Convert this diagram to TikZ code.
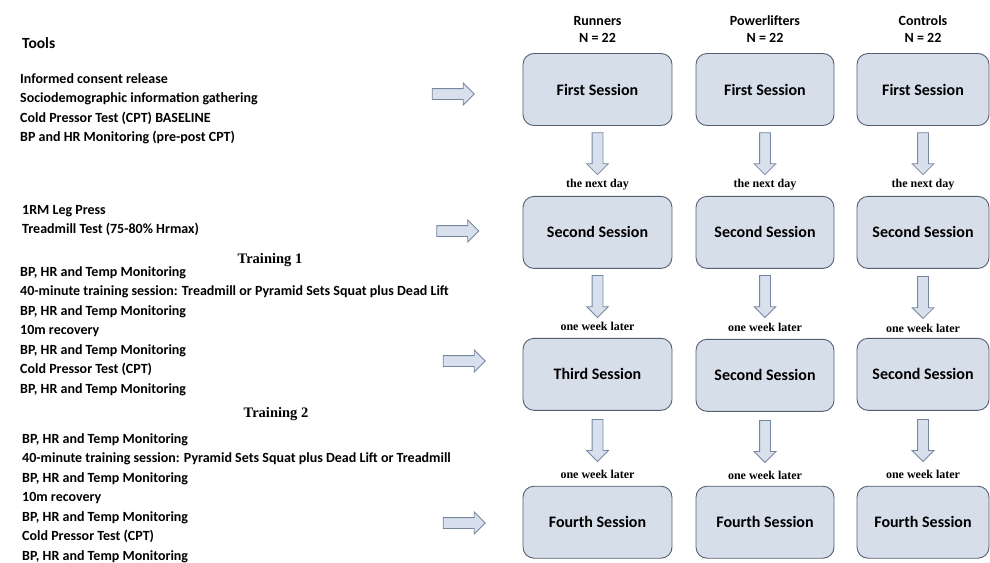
\documentclass[tikz,border=0pt]{standalone}
\usepackage{fontspec}
\setmainfont{Carlito}
\newfontfamily\labelserif{Liberation Serif}
\usepackage{tikz}
\usetikzlibrary{shapes.arrows, positioning, calc}
\definecolor{sessionfill}{RGB}{214,222,234}
\definecolor{sessiondraw}{RGB}{84,96,114}
\definecolor{arrowfill}{RGB}{216,224,238}
\definecolor{arrowdraw}{RGB}{118,134,158}
\tikzset{
    session/.style={
        rectangle,
        rounded corners=11pt,
        draw=sessiondraw,
        line width=0.9pt,
        fill=sessionfill,
        text centered,
        minimum height=72pt,
        font=\fontsize{16}{19}\selectfont\bfseries
    },
    downarrow/.style={
        single arrow,
        draw=arrowdraw,
        fill=arrowfill,
        line width=0.8pt,
        minimum height=42pt,
        single arrow head extend=5.5pt,
        single arrow tip angle=90,
        inner sep=5pt,
        shape border rotate=270
    },
    rightarrow/.style={
        downarrow,
        shape border rotate=0
    },
    groupname/.style={
        align=center,
        inner sep=0pt,
        font=\fontsize{14}{17}\selectfont\bfseries
    },
    gaplabel/.style={
        inner sep=0pt,
        font=\labelserif\fontsize{12}{14}\selectfont\bfseries
    },
    toollist/.style={
        align=left,
        anchor=north west,
        inner sep=0pt,
        font=\fontsize{14}{19.5}\selectfont\bfseries
    },
    training/.style={
        inner sep=0pt,
        font=\labelserif\fontsize{14.5}{17}\selectfont\bfseries
    }
}

\begin{document}
\begin{tikzpicture}[x=1pt, y=-1pt]
\useasboundingbox (0,0) rectangle (990,562);

% Sessions of the three groups
\node[session, minimum width=149pt] (first_run) at (597.5,89.5) {First Session};
\node[session, minimum width=138pt] (first_pow) at (765,89.5) {First Session};
\node[session, minimum width=132pt] (first_con) at (923,89.5) {First Session};

\node[session, minimum width=149pt, below=70pt of first_run] (second_run) {Second Session};
\node[session, minimum width=138pt, below=70pt of first_pow] (second_pow) {Second Session};
\node[session, minimum width=132pt, below=70pt of first_con] (second_con) {Second Session};

\node[session, minimum width=149pt, below=69pt of second_run] (third_run) {Third Session};
\node[session, minimum width=138pt, below=70pt of second_pow] (third_pow) {Second Session};
\node[session, minimum width=132pt, below=69pt of second_con] (third_con) {Second Session};

\node[session, minimum width=149pt, below=75pt of third_run] (fourth_run) {Fourth Session};
\node[session, minimum width=138pt, below=74pt of third_pow] (fourth_pow) {Fourth Session};
\node[session, minimum width=132pt, below=75pt of third_con] (fourth_con) {Fourth Session};

% Group headers
\node[groupname, above=10pt of first_run] (head_run) {Runners\\N = 22};
\node[groupname, above=10pt of first_pow] (head_pow) {Powerlifters\\N = 22};
\node[groupname, above=10pt of first_con] (head_con) {Controls\\N = 22};

% Block arrows between sessions
\node[downarrow] (down1_run) at ($(first_run.south)+(0,25)$) {};
\node[downarrow] (down1_pow) at ($(first_pow.south)+(0,25)$) {};
\node[downarrow] (down1_con) at ($(first_con.south)+(0,25)$) {};
\node[downarrow] (down2_run) at ($(second_run.south)+(0,25)$) {};
\node[downarrow] (down2_pow) at ($(second_pow.south)+(0,25)$) {};
\node[downarrow] (down2_con) at ($(second_con.south)+(0,26)$) {};
\node[downarrow] (down3_run) at ($(third_run.south)+(0,27)$) {};
\node[downarrow] (down3_pow) at ($(third_pow.south)+(0,27)$) {};
\node[downarrow] (down3_con) at ($(third_con.south)+(0,27)$) {};

% Time between sessions
\node[gaplabel, above=6pt of second_run] (gap1_run) {the next day};
\node[gaplabel, above=6pt of second_pow] (gap1_pow) {the next day};
\node[gaplabel, above=6pt of second_con] (gap1_con) {the next day};
\node[gaplabel, above=7pt of third_run] (gap2_run) {one week later};
\node[gaplabel, above=7pt of third_pow] (gap2_pow) {one week later};
\node[gaplabel, above=5pt of third_con] (gap2_con) {one week later};
\node[gaplabel, above=7pt of fourth_run] (gap3_run) {one week later};
\node[gaplabel, above=6pt of fourth_pow] (gap3_pow) {one week later};
\node[gaplabel, above=7pt of fourth_con] (gap3_con) {one week later};

% Tools per session
\node[anchor=west, inner sep=0pt, font=\fontsize{15.5}{18}\selectfont\bfseries] (tools) at (22,43) {Tools};
\node[toollist] (tools_first) at (20,73) {Informed consent release\\Sociodemographic information gathering\\Cold Pressor Test (CPT) BASELINE\\BP and HR Monitoring (pre-post CPT)};
\node[toollist] (tools_second) at (22,205) {1RM Leg Press\\Treadmill Test (75-80\% Hrmax)};
\node[training] (train_one) at (270,260) {Training 1};
\node[toollist] (tools_third) at (20,266) {BP, HR and Temp Monitoring\\40-minute training session: Treadmill or Pyramid Sets Squat plus Dead Lift\\BP, HR and Temp Monitoring\\10m recovery\\BP, HR and Temp Monitoring\\Cold Pressor Test (CPT)\\BP, HR and Temp Monitoring};
\node[training] (train_two) at (276,414) {Training 2};
\node[toollist] (tools_fourth) at (22,433) {BP, HR and Temp Monitoring\\40-minute training session: Pyramid Sets Squat plus Dead Lift or Treadmill\\BP, HR and Temp Monitoring\\10m recovery\\BP, HR and Temp Monitoring\\Cold Pressor Test (CPT)\\BP, HR and Temp Monitoring};

% Arrows from tools to sessions
\node[rightarrow] (to_first) at (450.5,94) {};
\node[rightarrow] (to_second) at (455,231) {};
\node[rightarrow] (to_third) at (461.5,361) {};
\node[rightarrow] (to_fourth) at (461.5,523) {};

\end{tikzpicture}
\end{document}
